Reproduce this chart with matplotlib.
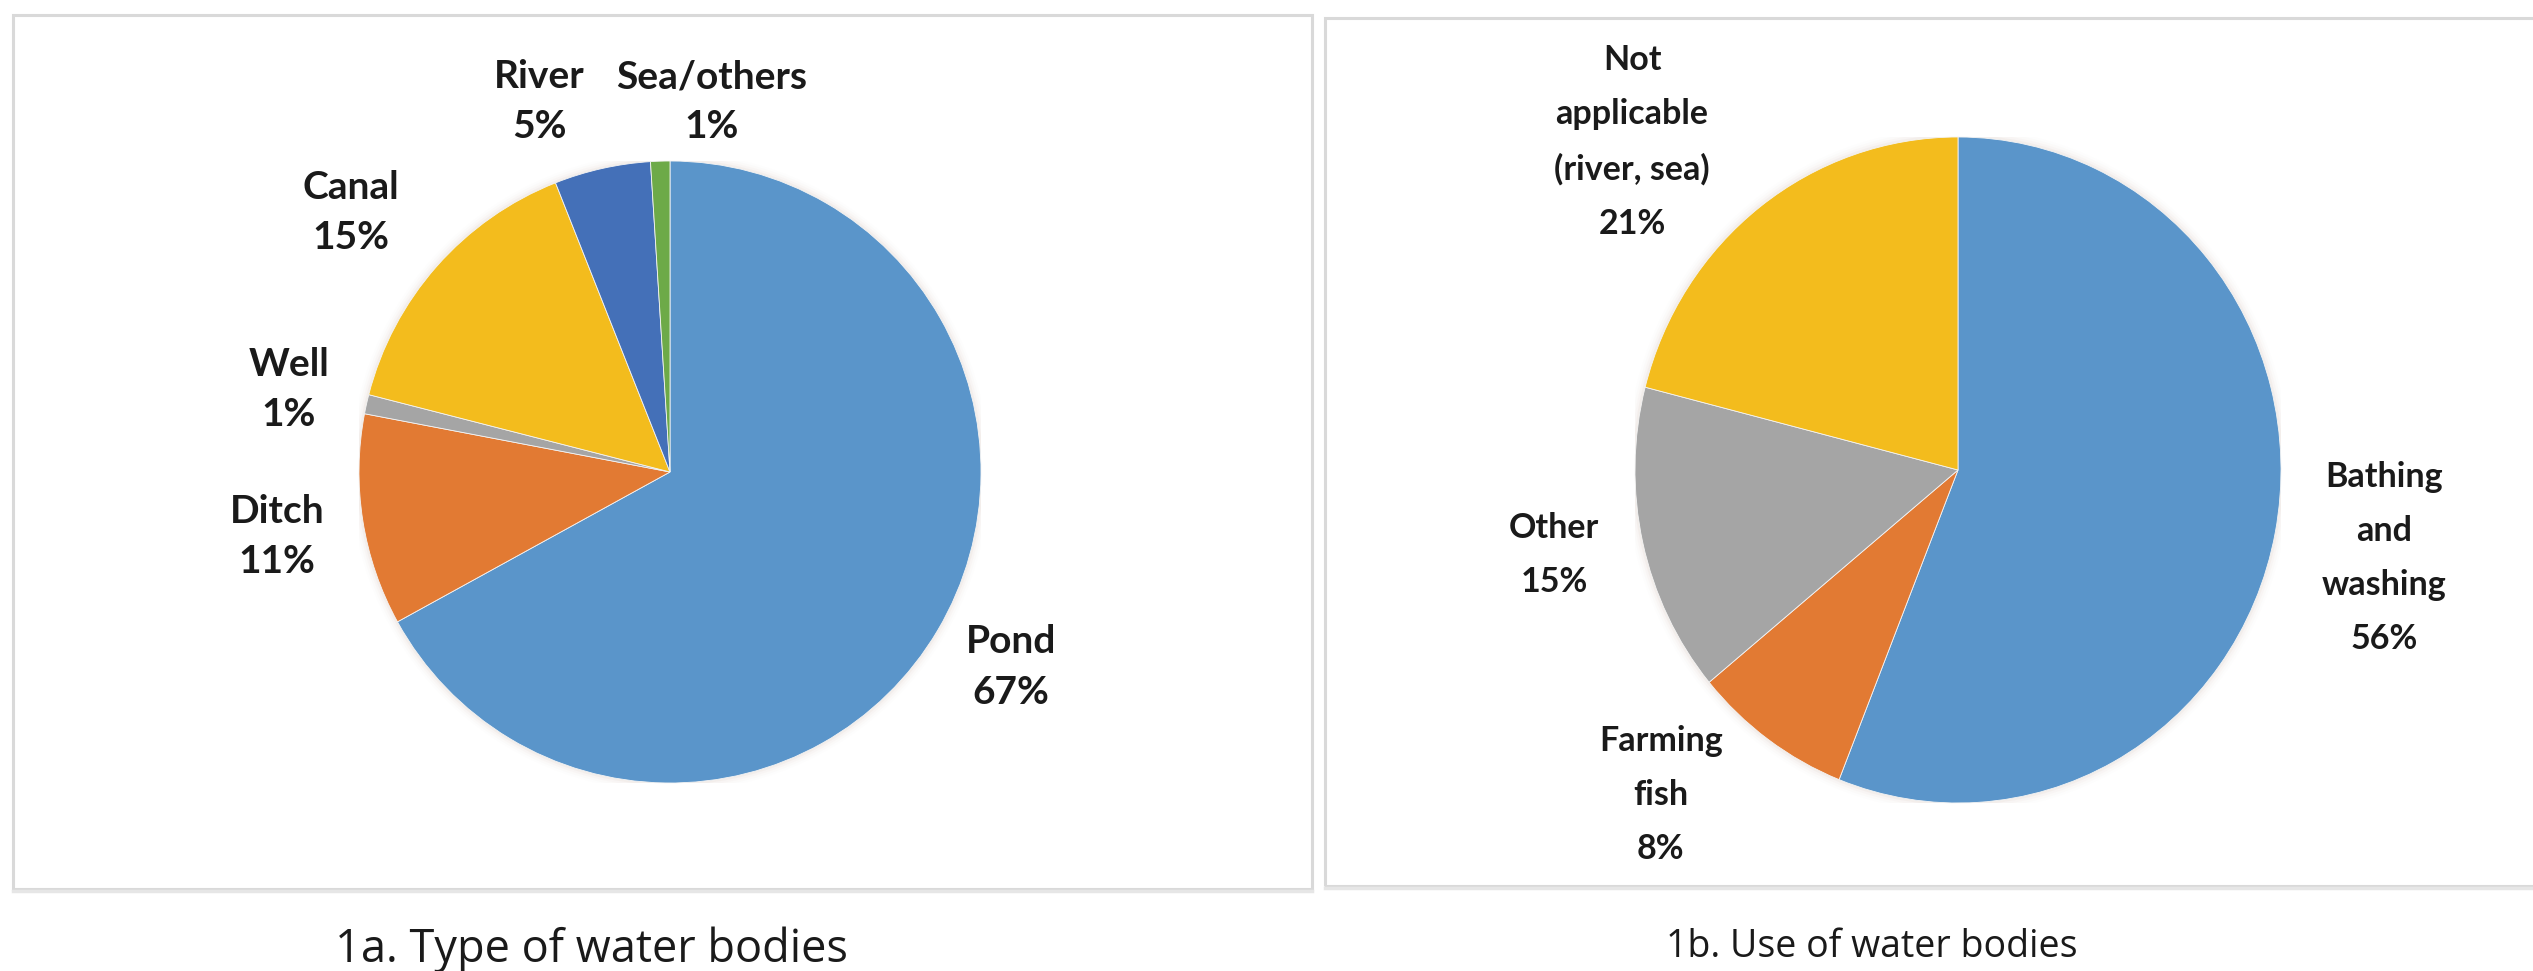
import matplotlib
matplotlib.use("Agg")
import matplotlib.pyplot as plt
from matplotlib.patches import Rectangle, Ellipse

# Type of water bodies
tipos = ["Pond", "Ditch", "Well", "Canal", "River", "Sea/others"]
tipos_pct = [67, 11, 1, 15, 5, 1]
tipos_cores = ["#5A95CA", "#E27A33", "#A5A5A5", "#F3BC1D", "#4470B8", "#6DAA48"]

# Use of water bodies
usos = ["Bathing\nand\nwashing", "Farming\nfish", "Other", "Not\napplicable\n(river, sea)"]
usos_pct = [56, 8, 15, 21]
usos_cores = ["#5A95CA", "#E27A33", "#A5A5A5", "#F3BC1D"]

# label anchor positions, in units of the pie radius
tipos_pos = [(1.096, -0.627), (-1.264, -0.206), (-1.225, 0.264),
             (-1.026, 0.833), (-0.42, 1.19), (0.135, 1.19)]
usos_pos = [(1.319, -0.264), (-0.920, -0.976), (-1.251, -0.255), (-1.009, 0.985)]

W, H = 2533, 971
plt.rcParams["font.family"] = ["Lato", "DejaVu Sans"]
fig = plt.figure(figsize=(W / 100, H / 100), dpi=100)
fig.patch.set_facecolor("white")


def caixa(x0, y0, x1, y1):
    # light frame with a slightly heavier bottom edge
    fig.add_artist(Rectangle((x0 / W, 1 - y1 / H), (x1 - x0) / W, (y1 - y0) / H,
                             transform=fig.transFigure, fill=False,
                             ec="#D9D9D9", lw=2.2))
    fig.add_artist(plt.Line2D([x0 / W, x1 / W], [1 - (y1 + 2) / H] * 2,
                              transform=fig.transFigure, color="#E6E6E6", lw=2.5))


def eixo_pizza(cx, cy, rx, ry):
    ax = fig.add_axes([(cx - rx) / W, 1 - (cy + ry) / H, 2 * rx / W, 2 * ry / H])
    return ax


def desenha_pizza(ax, nomes, pct, cores, pos, tam, esp):
    # soft halo around the pie
    for k, a in enumerate([0.10, 0.06, 0.035, 0.02]):
        r = 1.0 + 0.007 * (k + 1)
        ax.add_patch(Ellipse((0, 0), 2 * r, 2 * r, color="#C8B6A6", alpha=a,
                             lw=0, zorder=0))
    ax.pie(pct, colors=cores, startangle=90, counterclock=False, radius=1,
           wedgeprops=dict(linewidth=0.6, edgecolor="#F4F4F4", zorder=2))
    ax.set_aspect("auto")
    ax.set_xlim(-1, 1)
    ax.set_ylim(-1, 1)
    ax.axis("off")
    for nome, p, (x, y) in zip(nomes, pct, pos):
        ax.text(x, y, f"{nome}\n{p}%", ha="center", va="center",
                multialignment="center", fontsize=tam, fontweight="bold",
                color="#1A1A1A", linespacing=esp)


caixa(13, 15, 1312, 889)
caixa(1325, 18, 2545, 886)

ax1 = eixo_pizza(670, 472, 311, 311)
desenha_pizza(ax1, tipos, tipos_pct, tipos_cores, tipos_pos, 28, 1.52)

ax2 = eixo_pizza(1958, 470, 323, 333)
desenha_pizza(ax2, usos, usos_pct, usos_cores, usos_pos, 24.5, 1.85)

fig.text(591 / W, 1 - 950 / H, "1a. Type of water bodies", ha="center", va="center",
         fontsize=32.5, family=["Open Sans", "DejaVu Sans"], color="#1A1A1A")
fig.text(1872 / W, 1 - 947 / H, "1b. Use of water bodies", ha="center", va="center",
         fontsize=27, family=["Open Sans", "DejaVu Sans"], color="#1A1A1A")

fig.savefig("out.png", dpi=100, facecolor="white")
